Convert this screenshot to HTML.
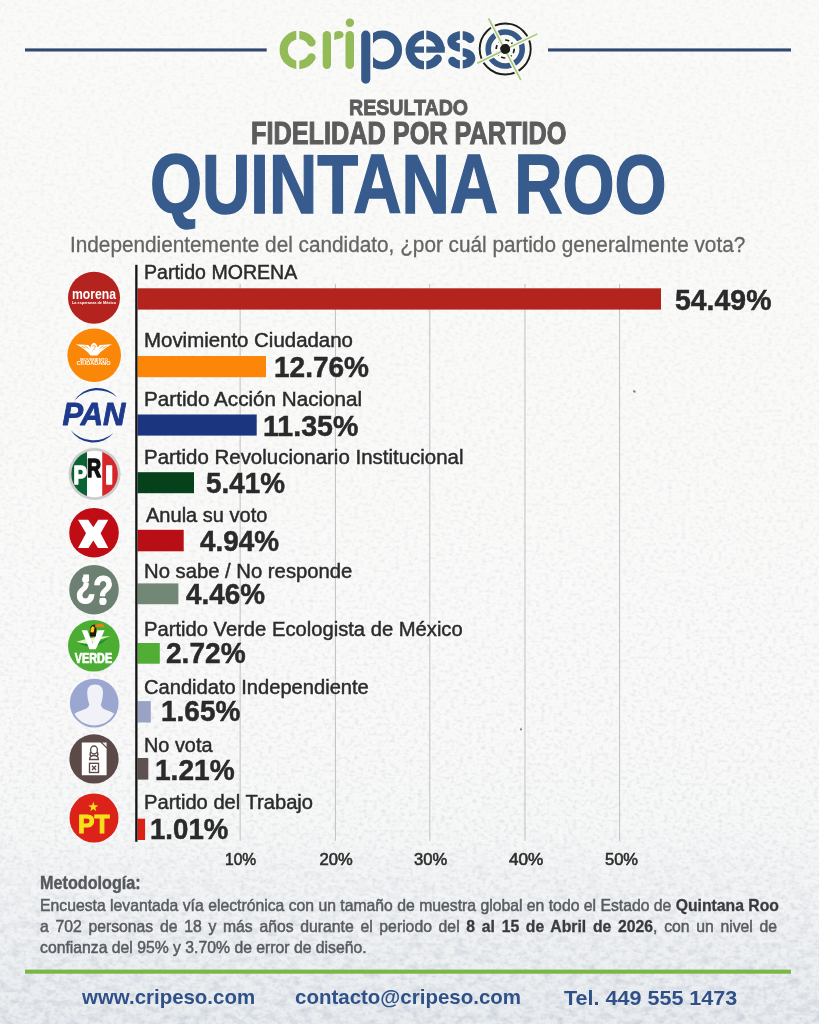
<!DOCTYPE html>
<html lang="es"><head><meta charset="utf-8"><title>Cripeso - Quintana Roo</title>
<style>
html,body{margin:0;padding:0;}
body{width:819px;height:1024px;position:relative;overflow:hidden;font-family:"Liberation Sans",Arial,sans-serif;
background:linear-gradient(to bottom,#fafaf8 0%,#fafaf9 50%,#f9f9f9 72%,#f6f7f7 82%,#eff1f3 92%,#e9edf0 100%);}
.g{position:absolute;left:0;top:0;}
.t{position:absolute;white-space:nowrap;line-height:1;transform-origin:0 0;}
.m{position:absolute;left:41px;line-height:1;white-space:nowrap;transform-origin:0 0;color:#585c61;font-size:16.4px;-webkit-text-stroke:0.5px #585c61;}
.m b{color:#393b3e;-webkit-text-stroke:0.3px #393b3e;}
</style></head><body>
<svg class="g" width="819" height="1024" viewBox="0 0 819 1024">
<defs>
<filter id="paper" x="0" y="0" width="819" height="1024" filterUnits="userSpaceOnUse">
 <feTurbulence type="fractalNoise" baseFrequency="0.09 0.14" numOctaves="3" seed="7"/>
 <feColorMatrix type="matrix" values="0 0 0 0 0.45  0 0 0 0 0.5  0 0 0 0 0.6  2.2 0 0 0 -0.95"/>
</filter>
<filter id="grain" x="0" y="0" width="819" height="1024" filterUnits="userSpaceOnUse">
 <feTurbulence type="fractalNoise" baseFrequency="0.22 0.3" numOctaves="2" seed="3"/>
 <feColorMatrix type="matrix" values="0 0 0 0 0.5  0 0 0 0 0.52  0 0 0 0 0.56  2.5 0 0 0 -1.15"/>
</filter>
<linearGradient id="tg" x1="0" y1="0" x2="0" y2="1">
 <stop offset="0" stop-color="#fff" stop-opacity="0"/>
 <stop offset="0.8" stop-color="#fff" stop-opacity="0.05"/>
 <stop offset="0.9" stop-color="#fff" stop-opacity="0.6"/>
 <stop offset="1" stop-color="#fff" stop-opacity="1"/>
</linearGradient>
<linearGradient id="gg" x1="0" y1="0" x2="0" y2="1">
 <stop offset="0" stop-color="#fff" stop-opacity="0.35"/>
 <stop offset="0.5" stop-color="#fff" stop-opacity="0.6"/>
 <stop offset="1" stop-color="#fff" stop-opacity="1"/>
</linearGradient>
<mask id="tm"><rect width="819" height="1024" fill="url(#tg)"/></mask>
<mask id="gm"><rect width="819" height="1024" fill="url(#gg)"/></mask>
</defs>
<rect width="819" height="1024" filter="url(#grain)" mask="url(#gm)" opacity="0.35"/>
<rect width="819" height="1024" filter="url(#paper)" mask="url(#tm)" opacity="0.5"/>
</svg>

<svg class="g" width="819" height="1024" viewBox="0 0 819 1024">
 <!-- header lines -->
 <rect x="25" y="48.4" width="241.7" height="3.1" fill="#31496f"/>
 <rect x="548" y="48.4" width="243" height="3.1" fill="#31496f"/>
 <!-- logo: c -->
 <path d="M311.5,42.45 A14.9,14.9 0 1 0 311.5,57.35" fill="none" stroke="#93bb58" stroke-width="8.3" stroke-linecap="round"/>
 <rect x="296.3" y="29" width="3" height="12" fill="#f8f8f6"/>
 <rect x="296.3" y="59" width="3" height="12" fill="#f8f8f6"/>
 <!-- r -->
 <rect x="322.7" y="31" width="8.3" height="38" rx="4.15" fill="#93bb58"/>
 <path d="M334.2,40.1 L334.2,34.2 Q334.2,30.9 338.8,30.9 Q343.6,30.9 343.6,34.8 Q343.6,37.4 340.6,38.2 Z" fill="#93bb58"/>
 <!-- i -->
 <rect x="345.5" y="31" width="8.5" height="38" rx="4.25" fill="#93bb58"/>
 <circle cx="349.9" cy="22.8" r="4.2" fill="#93bb58"/>
 <!-- p -->
 <clipPath id="pbowl"><rect x="373" y="25" width="40" height="50"/></clipPath>
 <circle cx="382.6" cy="50.1" r="15.55" fill="none" stroke="#365987" stroke-width="7.9" clip-path="url(#pbowl)"/>
 <rect x="361.2" y="30.6" width="9.1" height="53.1" rx="4.55" fill="#365987"/>
 <!-- e -->
 <path d="M440.35,50.2 A15.25,15.25 0 1 0 437.7,58.7" fill="none" stroke="#365987" stroke-width="8.4"/>
 <circle cx="437.7" cy="58.7" r="4.2" fill="#365987"/>
 <rect x="410" y="46.5" width="34.8" height="6.2" fill="#365987"/>
 <rect x="424" y="29" width="2.3" height="42" fill="#f8f8f6"/>
 <!-- s -->
 <g fill="none" stroke="#365987" stroke-width="8.4">
  <path d="M470.2,38.9 A9.8,6.2 0 1 0 461.3,47.7"/>
  <path d="M461.3,52.1 A9.8,6.2 0 1 1 452.4,60.9"/>
 </g>
 <circle cx="470.2" cy="38.9" r="4.2" fill="#365987"/>
 <circle cx="452.4" cy="60.9" r="4.2" fill="#365987"/>
 <rect x="459.9" y="29" width="2.8" height="42" fill="#f8f8f6"/>
 <!-- target -->
 <circle cx="505.2" cy="49" r="25.5" fill="none" stroke="#1d1d1b" stroke-width="1.9"/>
 <circle cx="505.2" cy="49" r="17" fill="none" stroke="#365987" stroke-width="5.6"/>
 <circle cx="505.2" cy="49" r="9" fill="none" stroke="#1d1d1b" stroke-width="1.7" stroke-dasharray="4.2 2.8"/>
 <circle cx="505.2" cy="49" r="4.9" fill="#1d1d1b"/>
 <g stroke-linecap="butt">
  <line x1="488.5" y1="18.3" x2="520.8" y2="79.8" stroke="#f8f8f6" stroke-width="4.5"/>
  <line x1="477.3" y1="63.2" x2="537.4" y2="33.9" stroke="#f8f8f6" stroke-width="4.5"/>
  <line x1="488.5" y1="18.3" x2="520.8" y2="79.8" stroke="#a8c875" stroke-width="1.6"/>
  <line x1="477.3" y1="63.2" x2="537.4" y2="33.9" stroke="#a8c875" stroke-width="1.6"/>
 </g>
 <circle cx="505.2" cy="49" r="4.9" fill="#1d1d1b"/>

 <!-- gridlines -->
 <g fill="#c6c6c6">
  <rect x="239.6" y="284" width="1.1" height="557"/>
  <rect x="334.9" y="284" width="1.1" height="557"/>
  <rect x="429.2" y="284" width="1.1" height="557"/>
  <rect x="524.4" y="284" width="1.1" height="557"/>
  <rect x="619" y="284" width="1.1" height="557"/>
 </g>
 <circle cx="521" cy="729.4" r="1.1" fill="#7a8494"/>
 <ellipse cx="634.4" cy="391.4" rx="1.6" ry="1.2" fill="#8e8e8e" transform="rotate(35 634.4 391.4)"/>
 <!-- bars -->
 <rect x="137.5" y="288.3" width="523.5" height="21.3" fill="#b3241f"/>
 <rect x="137.5" y="356" width="128.5" height="21.2" fill="#fc8608"/>
 <rect x="137.5" y="414.5" width="119.2" height="21.1" fill="#1b357e"/>
 <rect x="137.5" y="472.2" width="56.5" height="21" fill="#05411a"/>
 <rect x="137.5" y="529.8" width="46.2" height="21.5" fill="#b80e15"/>
 <rect x="137.5" y="583.4" width="40.9" height="20.8" fill="#738777"/>
 <rect x="137.5" y="643" width="22.3" height="20.7" fill="#52ad35"/>
 <rect x="137.5" y="701.1" width="13.3" height="21.4" fill="#98a3c6"/>
 <rect x="137.5" y="758" width="10.8" height="21.6" fill="#5e5250"/>
 <rect x="137.5" y="818.7" width="7.6" height="21.3" fill="#dc2119"/>
 <!-- axis -->
 <rect x="135.2" y="264.8" width="2.3" height="577" fill="#151515"/>

 <!-- MORENA icon -->
 <circle cx="94" cy="297.7" r="26" fill="#b5231e"/>
 <text x="94" y="299.2" text-anchor="middle" font-family="Liberation Sans" font-weight="bold" font-size="13.8" fill="#fff" textLength="44" lengthAdjust="spacingAndGlyphs">morena</text>
 <text x="94" y="304.2" text-anchor="middle" font-family="Liberation Sans" font-weight="bold" font-size="3.9" fill="#fff" textLength="44" lengthAdjust="spacingAndGlyphs">La esperanza de México</text>

 <!-- MC icon -->
 <circle cx="94.2" cy="355.3" r="26.8" fill="#fa8708"/>
 <path d="M75.8,344.3 L88.2,344.9 L90.3,347.4 L91.4,344.6 L93.6,342.8 L95.6,343.4 L97.1,345.4 L97.6,347.4 L99.8,344.9 L112,344.3 Q107.5,346.6 104.5,349 Q100.6,351.6 97.4,355.6 L90.6,355.6 Q87.6,351.6 83.6,349 Q80.5,346.6 75.8,344.3 Z" fill="#fff"/>
 <g stroke="#fa8708" stroke-width="0.7" fill="none">
  <path d="M81.5,346.2 L85.5,348.2 M84.5,345.6 L88.6,348.6 M106.6,346.2 L102.6,348.2 M103.6,345.6 L99.6,348.6"/>
  <path d="M92.4,346.2 Q94.2,344.6 95.6,346.2 Q94.6,349 92.6,350.4"/>
 </g>
 <text x="93.9" y="360.8" text-anchor="middle" font-family="Liberation Sans" font-weight="bold" font-size="3.4" fill="#fff" textLength="27.8" lengthAdjust="spacingAndGlyphs">MOVIMIENTO</text>
 <text x="93.65" y="365.4" text-anchor="middle" font-family="Liberation Sans" font-weight="bold" font-size="5.2" fill="#fff" textLength="34.1" lengthAdjust="spacingAndGlyphs">CIUDADANO</text>

 <!-- PAN icon -->
 <path d="M74.5,400.5 A26.5,26.5 0 0 1 117.5,397.5 A31,31 0 0 0 74.5,400.5 Z" fill="#1e3a8c"/>
 <path d="M70.6,430 A26.5,26.5 0 0 0 113.6,433 A31,31 0 0 1 70.6,430 Z" fill="#1e3a8c"/>
 <text x="62.4" y="425.3" font-family="Liberation Sans" font-weight="bold" font-style="italic" font-size="31.8" fill="#1e3a8c" stroke="#1e3a8c" stroke-width="0.9" stroke-linejoin="round" textLength="63" lengthAdjust="spacingAndGlyphs">PAN</text>

 <!-- PRI icon -->
 <circle cx="94.6" cy="474" r="26" fill="#cdcdcd"/>
 <clipPath id="pric"><circle cx="94.6" cy="474" r="23.3"/></clipPath>
 <g clip-path="url(#pric)">
  <rect x="68" y="448" width="19" height="52" fill="#0b6232"/>
  <rect x="87" y="448" width="15.3" height="52" fill="#ffffff"/>
  <rect x="102.3" y="448" width="20" height="52" fill="#d7262b"/>
 </g>
 <g font-family="Liberation Sans" font-weight="bold" font-size="26" stroke-width="1.6" stroke-linejoin="round">
  <text x="0" y="0" fill="#fff" stroke="#fff" transform="translate(73.6,484.4) scale(0.78,1)">P</text>
  <text x="0" y="0" fill="#111" stroke="#111" transform="translate(87.0,477.1) scale(0.75,1)">R</text>
  <text x="0" y="0" fill="#fff" stroke="#fff" transform="translate(104.9,484.4) scale(1.15,1)">I</text>
 </g>

 <!-- X icon -->
 <circle cx="94" cy="532.7" r="24.8" fill="#c00c15"/>
 <polygon points="78,519.7 88.2,519.7 93.3,527.2 98.2,519.7 108.3,519.7 100.6,533.3 108.3,547.9 98,547.9 93.3,540.5 88.5,547.9 78,547.9 86,533.3" fill="#fff"/>

 <!-- No sabe icon -->
 <circle cx="94" cy="589.7" r="24.8" fill="#6c8172"/>
 <g fill="#fff" stroke="#fff" stroke-width="1.2" stroke-linejoin="round" font-family="Liberation Sans" font-weight="bold">
  <text x="0" y="0" font-size="40" transform="translate(93.2,604.3) scale(0.82,1)">?</text>
  <text x="0" y="0" font-size="40" transform="translate(75.4,597.3) scale(0.82,1)">¿</text>
  <circle cx="103" cy="601.3" r="3.6" stroke="none"/>
  <circle cx="85.6" cy="579.4" r="3.5" stroke="none"/>
 </g>
 <!-- Verde icon -->
 <circle cx="93.8" cy="645.8" r="25.8" fill="#4cad33"/>
 <path d="M76.5,641.8 Q92,636.2 110.5,636.2 Q98,639.8 89,643.8 Q82,643.6 76.5,641.8 Z" fill="#e2f3c4"/>
 <path d="M78.5,643 Q89,645.2 96,643.8 Q103,640.5 109,637.6 Q102,643.6 95,647 Q85,647 78.5,643 Z" fill="#138a3c"/>
 <polygon points="81.7,630.3 87.3,630.3 92.6,643.8 97.5,630.3 104.6,630.3 95.8,649.3 89.4,649.3" fill="#fff"/>
 <path d="M90,636.4 Q89.3,629 91,626 Q93,624.2 95.5,624.8 Q97,628 96.2,632 Q96,635 95.8,636.4 Z" fill="#25140c"/>
 <path d="M90.6,632.3 Q90.2,628 92,626.3 Q94,626 94.6,627.8 Q94.3,630.5 93.5,632.5 Z" fill="#f5cf17"/>
 <path d="M94.6,625.4 Q99,622.6 103.6,624.6 Q104.6,626 104,627.6 Q100,625.8 95.6,627.4 Z" fill="#e8801c"/>
 <text x="93.45" y="662.6" text-anchor="middle" font-family="Liberation Sans" font-weight="bold" font-size="14" fill="#fff" stroke="#fff" stroke-width="0.7" stroke-linejoin="round" textLength="37.4" lengthAdjust="spacingAndGlyphs">VERDE</text>

 <!-- Candidato independiente icon -->
 <circle cx="94.2" cy="703.1" r="24.4" fill="#9ba7d0"/>
 <clipPath id="cic"><circle cx="94.2" cy="703.1" r="22.4"/></clipPath>
 <g clip-path="url(#cic)" fill="#f1f2f7">
  <path d="M87.2,692.5 Q87.2,684.6 95,684.6 Q103,684.6 103,692.5 L102.6,697.5 Q101.8,702.5 100.6,705 L89.6,705 Q88.4,702.5 87.6,697.5 Z"/>
  <path d="M89.6,703 Q89.6,707.6 84,709.6 Q76,712 70,716.5 L70,732 L119,732 L119,716.5 Q112.5,712 105,709.6 Q100.6,707.6 100.6,703 Z"/>
 </g>

 <!-- No vota icon -->
 <circle cx="94" cy="758.9" r="24.6" fill="#5b4a47"/>
 <path d="M81.8,742.4 L100.4,742.4 L106.6,748.6 L106.6,775.3 L81.8,775.3 Z" fill="#fff"/>
 <path d="M102.1,742.4 L106.6,742.4 L106.6,746.9 Z" fill="#eeeeee"/>
 <g fill="none" stroke="#5b4a47" stroke-width="1.35">
  <ellipse cx="94" cy="750" rx="3.4" ry="4"/>
  <path d="M89.6,759.5 Q89.6,755.5 94,755.5 Q98.4,755.5 98.4,759.5 Z"/>
  <path d="M90.6,752 Q89.5,755 90.8,756"/>
  <path d="M97.4,752 Q98.5,755 97.2,756"/>
  <rect x="89.5" y="763.3" width="9" height="9.2"/>
  <path d="M92,765.8 L96,770 M96,765.8 L92,770"/>
 </g>

 <!-- PT icon -->
 <circle cx="94" cy="818" r="24.5" fill="#dc2219"/>
 <polygon points="93.30,801.80 94.53,805.30 98.25,805.39 95.30,807.65 96.36,811.21 93.30,809.10 90.24,811.21 91.30,807.65 88.35,805.39 92.07,805.30" fill="#f5e21b"/>
 <text x="93.7" y="833.2" text-anchor="middle" font-family="Liberation Sans" font-weight="bold" font-size="26.3" fill="#f5e21b" stroke="#f5e21b" stroke-width="1.1" stroke-linejoin="round" textLength="31.6" lengthAdjust="spacingAndGlyphs">PT</text>

 <!-- green footer line -->
 <rect x="25" y="969.6" width="766" height="4.1" fill="#7ab648"/>
</svg>
<div class="t" style="left:349.1px;top:97px;font-size:21.95px;font-weight:bold;color:#5c5c5c;transform:scaleX(0.8939);-webkit-text-stroke:0.9px #5c5c5c;">RESULTADO</div>
<div class="t" style="left:250.9px;top:118px;font-size:31.4px;font-weight:bold;color:#5c5c5c;transform:scaleX(0.8051);-webkit-text-stroke:1.1px #5c5c5c;">FIDELIDAD POR PARTIDO</div>
<div class="t" style="left:149.7px;top:143px;font-size:83.14px;font-weight:bold;color:#365b8c;transform:scaleX(0.8049);-webkit-text-stroke:1.4px #365b8c;">QUINTANA ROO</div>
<div class="t" style="left:69.8px;top:234px;font-size:21.22px;font-weight:normal;color:#656565;transform:scaleX(0.9785);-webkit-text-stroke:0.3px #656565;">Independientemente del candidato, ¿por cuál partido generalmente vota?</div>
<div class="t" style="left:143.9px;top:263px;font-size:19.91px;font-weight:normal;color:#2b2b2b;transform:scaleX(0.9826);-webkit-text-stroke:0.45px #2b2b2b;">Partido MORENA</div>
<div class="t" style="left:143.7px;top:331px;font-size:19.91px;font-weight:normal;color:#2b2b2b;transform:scaleX(1.0262);-webkit-text-stroke:0.45px #2b2b2b;">Movimiento Ciudadano</div>
<div class="t" style="left:143.7px;top:390px;font-size:19.91px;font-weight:normal;color:#2b2b2b;transform:scaleX(1.0375);-webkit-text-stroke:0.45px #2b2b2b;">Partido Acción Nacional</div>
<div class="t" style="left:144.0px;top:448px;font-size:19.91px;font-weight:normal;color:#2b2b2b;transform:scaleX(1.0275);-webkit-text-stroke:0.45px #2b2b2b;">Partido Revolucionario Institucional</div>
<div class="t" style="left:145.9px;top:506px;font-size:19.91px;font-weight:normal;color:#2b2b2b;transform:scaleX(1.0067);-webkit-text-stroke:0.45px #2b2b2b;">Anula su voto</div>
<div class="t" style="left:144.2px;top:562px;font-size:19.91px;font-weight:normal;color:#2b2b2b;transform:scaleX(1.0177);-webkit-text-stroke:0.45px #2b2b2b;">No sabe / No responde</div>
<div class="t" style="left:144.1px;top:620px;font-size:19.91px;font-weight:normal;color:#2b2b2b;transform:scaleX(1.0141);-webkit-text-stroke:0.45px #2b2b2b;">Partido Verde Ecologista de México</div>
<div class="t" style="left:143.7px;top:678px;font-size:19.91px;font-weight:normal;color:#2b2b2b;transform:scaleX(1.0104);-webkit-text-stroke:0.45px #2b2b2b;">Candidato Independiente</div>
<div class="t" style="left:144.1px;top:736px;font-size:19.91px;font-weight:normal;color:#2b2b2b;transform:scaleX(0.9985);-webkit-text-stroke:0.45px #2b2b2b;">No vota</div>
<div class="t" style="left:144.1px;top:793px;font-size:19.91px;font-weight:normal;color:#2b2b2b;transform:scaleX(1.0114);-webkit-text-stroke:0.45px #2b2b2b;">Partido del Trabajo</div>
<div class="t" style="left:675.0px;top:285px;font-size:29.8px;font-weight:bold;color:#2a2a2a;transform:scaleX(0.9540);-webkit-text-stroke:0.5px #2a2a2a;">54.49%</div>
<div class="t" style="left:273.5px;top:352px;font-size:29.8px;font-weight:bold;color:#2a2a2a;transform:scaleX(0.9400);-webkit-text-stroke:0.5px #2a2a2a;">12.76%</div>
<div class="t" style="left:263.3px;top:411px;font-size:29.8px;font-weight:bold;color:#2a2a2a;transform:scaleX(0.9592);-webkit-text-stroke:0.5px #2a2a2a;">11.35%</div>
<div class="t" style="left:206.1px;top:468px;font-size:29.8px;font-weight:bold;color:#2a2a2a;transform:scaleX(0.9349);-webkit-text-stroke:0.5px #2a2a2a;">5.41%</div>
<div class="t" style="left:199.6px;top:526px;font-size:29.8px;font-weight:bold;color:#2a2a2a;transform:scaleX(0.9357);-webkit-text-stroke:0.5px #2a2a2a;">4.94%</div>
<div class="t" style="left:186.3px;top:579px;font-size:29.8px;font-weight:bold;color:#2a2a2a;transform:scaleX(0.9345);-webkit-text-stroke:0.5px #2a2a2a;">4.46%</div>
<div class="t" style="left:165.7px;top:638px;font-size:29.8px;font-weight:bold;color:#2a2a2a;transform:scaleX(0.9422);-webkit-text-stroke:0.5px #2a2a2a;">2.72%</div>
<div class="t" style="left:161.1px;top:696px;font-size:29.8px;font-weight:bold;color:#2a2a2a;transform:scaleX(0.9386);-webkit-text-stroke:0.5px #2a2a2a;">1.65%</div>
<div class="t" style="left:154.7px;top:755px;font-size:29.8px;font-weight:bold;color:#2a2a2a;transform:scaleX(0.9422);-webkit-text-stroke:0.5px #2a2a2a;">1.21%</div>
<div class="t" style="left:149.9px;top:814px;font-size:29.8px;font-weight:bold;color:#2a2a2a;transform:scaleX(0.9265);-webkit-text-stroke:0.5px #2a2a2a;">1.01%</div>
<div class="t" style="left:225.1px;top:852px;font-size:16.57px;font-weight:normal;color:#2e2e2e;transform:scaleX(0.9375);-webkit-text-stroke:0.6px #2e2e2e;">10%</div>
<div class="t" style="left:319.6px;top:852px;font-size:16.57px;font-weight:normal;color:#2e2e2e;transform:scaleX(1.0000);-webkit-text-stroke:0.6px #2e2e2e;">20%</div>
<div class="t" style="left:414.0px;top:852px;font-size:16.57px;font-weight:normal;color:#2e2e2e;transform:scaleX(1.0000);-webkit-text-stroke:0.6px #2e2e2e;">30%</div>
<div class="t" style="left:508.8px;top:852px;font-size:16.57px;font-weight:normal;color:#2e2e2e;transform:scaleX(1.0364);-webkit-text-stroke:0.6px #2e2e2e;">40%</div>
<div class="t" style="left:604.8px;top:852px;font-size:16.57px;font-weight:normal;color:#2e2e2e;transform:scaleX(0.9970);-webkit-text-stroke:0.6px #2e2e2e;">50%</div>
<div class="t" style="left:40.1px;top:874px;font-size:18.17px;font-weight:bold;color:#55585d;transform:scaleX(0.8919);-webkit-text-stroke:0.4px #55585d;">Metodología:</div>
<div class="t" style="left:82.0px;top:987px;font-size:20.64px;font-weight:bold;color:#2f5188;transform:scaleX(0.9913);">www.cripeso.com</div>
<div class="t" style="left:294.7px;top:987px;font-size:20.64px;font-weight:bold;color:#2f5188;transform:scaleX(0.9933);">contacto@cripeso.com</div>
<div class="t" style="left:564.3px;top:988px;font-size:20.93px;font-weight:bold;color:#2f5188;transform:scaleX(1.0298);">Tel. 449 555 1473</div>
<div class="m" style="left:39.8px;top:896.6px;width:767px;text-align:justify;text-align-last:justify;transform:scaleX(0.961);">Encuesta levantada vía electrónica con un tamaño de muestra global en todo el Estado de <b>Quintana Roo</b></div>
<div class="m" style="left:40.4px;top:917.9px;width:767px;text-align:justify;text-align-last:justify;transform:scaleX(0.961);">a 702 personas de 18 y más años durante el periodo del <b>8 al 15 de Abril de 2026</b>, con un nivel de</div>
<div class="m" style="left:40.4px;top:939.3px;transform:scaleX(0.961);">confianza del 95% y 3.70% de error de diseño.</div>

</body></html>
